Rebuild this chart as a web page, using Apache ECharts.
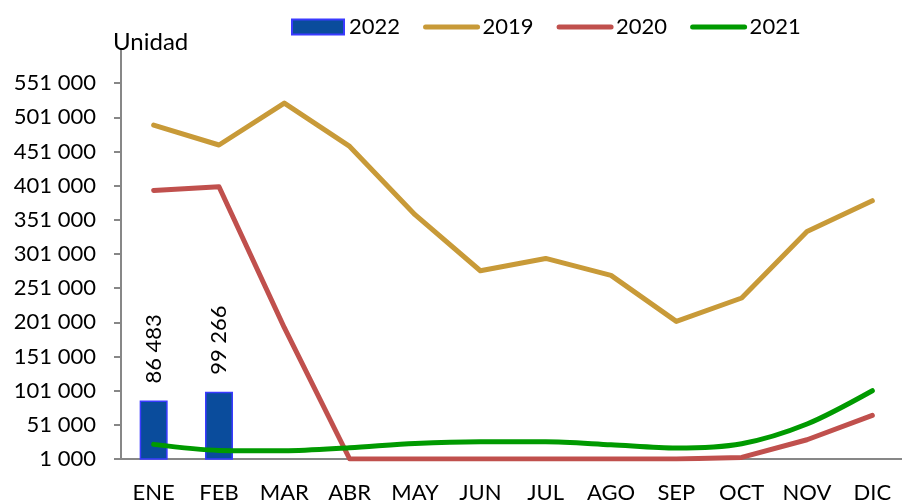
<!DOCTYPE html>
<html>
<head>
<meta charset="utf-8">
<script src="https://cdn.jsdelivr.net/npm/echarts@6/dist/echarts.min.js"></script>
<style>
  html, body { margin: 0; padding: 0; background: #fff; }
  #chart { width: 902px; height: 501px; }
</style>
</head>
<body>
<div id="chart"></div>
<script>
  // meses
  var months = ['ENE', 'FEB', 'MAR', 'ABR', 'MAY', 'JUN', 'JUL', 'AGO', 'SEP', 'OCT', 'NOV', 'DIC'];
  var yTicks = [1000, 51000, 101000, 151000, 201000, 251000, 301000, 351000, 401000, 451000, 501000, 551000];

  var data2022 = [86483, 99266];
  var data2019 = [489700, 460500, 521900, 458400, 358500, 276500, 294500, 269700, 202400, 236600, 334000, 379000];
  var data2020 = [394000, 399500, 193100, 1000, 1000, 1000, 1000, 1000, 1000, 3300, 29200, 64800];
  var data2021 = [22400, 13600, 13100, 17500, 23800, 26300, 26300, 21900, 17100, 23400, 52200, 100900];

  function fmt(v) {
    return String(v).replace(/\B(?=(\d{3})+(?!\d))/g, ' ');
  }

  var font = 'Lato';
  var lineW = 5;
  var chart = echarts.init(document.getElementById('chart'));

  // legend de las líneas: solo la línea, sin símbolo
  function lineLegend(name) {
    return { name: name, itemStyle: { opacity: 0 }, lineStyle: { width: lineW, cap: 'round' } };
  }

  var option = {
    animation: false,
    textStyle: { fontFamily: font },
    title: {
      text: 'Unidad',
      left: 113,
      top: 30,
      padding: 0,
      textStyle: { fontFamily: font, fontSize: 24, fontWeight: 'normal', color: '#000' }
    },
    legend: {
      left: 286,
      top: 11,
      itemWidth: 52,
      itemHeight: 15,
      itemGap: 23,
      textStyle: { fontFamily: font, fontSize: 22, color: '#000' },
      data: [{ name: '2022', icon: 'rect' }, lineLegend('2019'), lineLegend('2020'), lineLegend('2021')]
    },
    grid: {
      left: 121,
      top: 49,
      width: 784,
      height: 410,
      outerBoundsMode: 'none'
    },
    xAxis: {
      type: 'category',
      data: months,
      axisLine: { lineStyle: { color: '#878787', width: 2 } },
      axisTick: { length: 8, lineStyle: { color: '#878787', width: 2 } },
      axisLabel: { interval: 0, margin: 23, fontSize: 22, color: '#000', fontFamily: font }
    },
    yAxis: {
      type: 'value',
      min: 1000,
      max: 601000,
      interval: 50000,
      splitLine: { show: false },
      axisLine: { show: true, lineStyle: { color: '#878787', width: 2 } },
      axisTick: { show: true, length: 7, customValues: yTicks, lineStyle: { color: '#878787', width: 2 } },
      axisLabel: {
        margin: 25, fontSize: 22, color: '#000', fontFamily: font,
        customValues: yTicks,
        formatter: function (v) { return fmt(v); }
      }
    },
    series: [
      {
        name: '2022',
        type: 'bar',
        data: data2022,
        barWidth: 28,
        itemStyle: { color: '#0A4C9C', borderColor: '#3A3AFF', borderWidth: 1.5 },
        label: {
          show: true,
          position: 'top',
          rotate: 90,
          align: 'left',
          verticalAlign: 'middle',
          distance: 17,
          fontSize: 22,
          color: '#000',
          fontFamily: font,
          formatter: function (p) { return fmt(p.value); }
        }
      },
      {
        name: '2019',
        type: 'line',
        data: data2019,
        symbol: 'none',
        lineStyle: { color: '#C89A38', width: lineW, cap: 'round', join: 'round' },
        itemStyle: { color: '#C89A38' }
      },
      {
        name: '2020',
        type: 'line',
        data: data2020,
        symbol: 'none',
        lineStyle: { color: '#C0504D', width: lineW, cap: 'round', join: 'round' },
        itemStyle: { color: '#C0504D' }
      },
      {
        name: '2021',
        type: 'line',
        data: data2021,
        symbol: 'none',
        smooth: 0.3,
        lineStyle: { color: '#009A00', width: lineW, cap: 'round', join: 'round' },
        itemStyle: { color: '#009A00' }
      }
    ]
  };

  chart.setOption(option);
</script>
</body>
</html>
